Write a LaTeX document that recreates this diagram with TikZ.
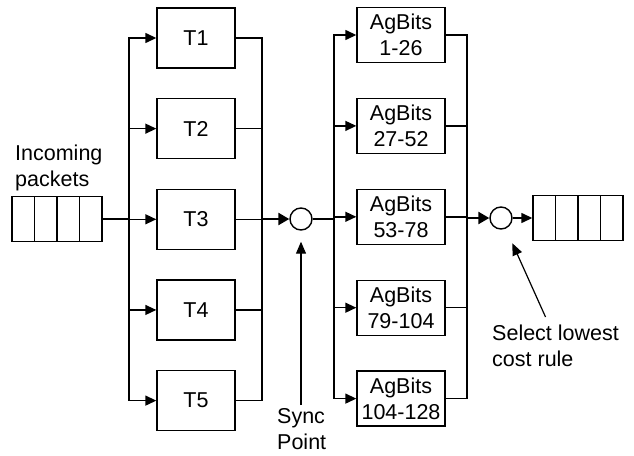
\documentclass[tikz,border=0pt]{standalone}
\usepackage{fontspec}
\setmainfont{Liberation Sans}
\usetikzlibrary{arrows.meta,positioning,calc}
\tikzset{
	stage/.style={
		draw, rectangle, line width=1.4pt,
		minimum width=78pt, minimum height=60pt, inner sep=0pt
	},
	agbox/.style={
		draw, rectangle, line width=1.4pt, align=center,
		minimum width=88pt, minimum height=55pt, inner sep=0pt
	},
	queue/.style={
		draw, rectangle, line width=1.4pt,
		minimum width=90pt, minimum height=45pt, inner sep=0pt,
		path picture = {
			\foreach \f in {0.25,0.5,0.75}
				\draw[line width=1.4pt]
				($(path picture bounding box.north west)!\f!(path picture bounding box.north east)$) --
				($(path picture bounding box.south west)!\f!(path picture bounding box.south east)$);
		}
	},
	joint/.style={draw, circle, line width=1.4pt, minimum size=22pt, inner sep=0pt},
	note/.style={align=left, inner sep=0pt},
	bus/.style={line width=1.4pt, line cap=rect},
	feed/.style={line width=1.4pt, -{Triangle[length=11pt,width=10pt]}},
	trunk/.style={line width=2.4pt},
	trunk_arrow/.style={line width=2.4pt, -{Triangle[length=11pt,width=12pt]}},
	pointer/.style={line width=1.2pt, -{Triangle[length=12pt,width=10pt]}}
}
\begin{document}
\begin{tikzpicture}[x=1pt, y=-1pt, font=\fontsize{21.5}{26}\selectfont]
	\useasboundingbox (0,0) rectangle (634,455);
	% thread stages
	\node[stage] (T1) at (196,38) {T1};
	\node[stage] (T2) [below=29.25pt of T1] {T2};
	\node[stage] (T3) [below=29.25pt of T2] {T3};
	\node[stage] (T4) [below=29.25pt of T3] {T4};
	\node[stage] (T5) [below=29.25pt of T4] {T5};
	% aggregated bit ranges
	\node[agbox] (A1) at (401,35) {AgBits\\1-26};
	\node[agbox] (A2) [below=34.5pt of A1] {AgBits\\27-52};
	\node[agbox] (A3) [below=34.5pt of A2] {AgBits\\53-78};
	\node[agbox] (A4) [below=34.5pt of A3] {AgBits\\79-104};
	\node[agbox] (A5) [below=34.5pt of A4] {AgBits\\104-128};
	% queues and joints
	\node[queue] (inq)  at (57,219) {};
	\node[queue] (outq) at (578,218) {};
	\node[joint] (sync) at (301,219) {};
	\node[joint] (pick) at (501,218) {};
	\node[note, anchor=north west] (inlabel)   at (15,145)  {Incoming\\packets};
	\node[note, anchor=north west] (synclabel) at (277,408) {Sync\\Point};
	\node[note, anchor=north west] (sellabel)  at (492,325) {Select lowest\\cost rule};
	\coordinate (split) at (129,219);
	\coordinate (merge) at (262,219);
	\coordinate (fork)  at (334,219);
	\coordinate (join)  at (467,218);
	% fan out to the stages and back
	\draw[trunk] (inq) -- (split);
	\draw[bus] (T1.west -| split) -- (T5.west -| split);
	\draw[bus] (T1.east -| merge) -- (T5.east -| merge);
	\foreach \i in {1,...,5} {
		\draw[feed] (T\i.west -| split) -- (T\i.west);
		\draw[bus] (T\i.east) -- (T\i.east -| merge);
	}
	\draw[trunk_arrow] (merge) -- (sync);
	\draw[trunk] (sync) -- (fork);
	% fan out to the bit ranges and back
	\draw[bus] (A1.west -| fork) -- (A5.west -| fork);
	\draw[bus] (A1.east -| join) -- (A5.east -| join);
	\foreach \i in {1,...,5} {
		\draw[feed] (A\i.west -| fork) -- (A\i.west);
		\draw[bus] (A\i.east) -- (A\i.east -| join);
	}
	\draw[trunk_arrow] (join) -- (pick);
	\draw[feed] (pick) -- (outq);
	% callouts
	\draw[pointer, shorten <=3pt, shorten >=11pt] (synclabel.north -| sync) -- (sync);
	\draw[pointer, shorten >=16pt] ([xshift=-10pt,yshift=8pt]sellabel.north) -- (pick);
\end{tikzpicture}
\end{document}
